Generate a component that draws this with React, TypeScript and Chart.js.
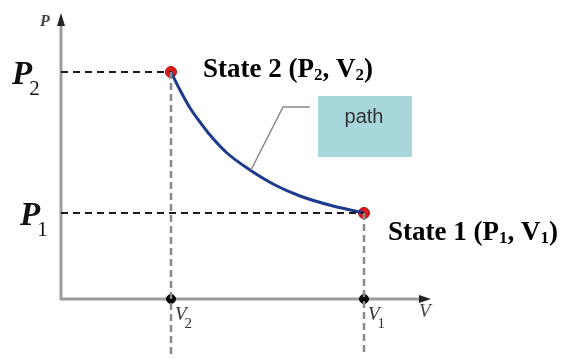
import React, { useEffect, useRef } from "react";
import { Chart, registerables } from "chart.js";

Chart.register(...registerables);

// Volume / pressure values (arbitrary units)
const curveV = [110, 119, 129, 139, 149, 166, 189, 214, 239, 272, 303];
const curveP = [227, 209, 191, 177, 164, 146, 129, 114, 103, 93, 86];
const stateV = [303, 110]; // State 1, State 2
const stateP = [86, 227];
const stateNames = ["State 1", "State 2"];
const subs = ["1", "2"];
const axisMaxV = 369;
const axisMaxP = 284;
const dropP = -56; // how far the vertical guides run below the V axis

const SERIF = '"Liberation Serif", "Times New Roman", serif';
const SANS = '"Liberation Sans", Arial, sans-serif';

const decor = {
  id: "pvDecor",
  beforeDatasetsDraw(chart: any) {
    const ctx = chart.ctx;
    const xs = chart.scales.x;
    const ys = chart.scales.y;
    const x0 = xs.getPixelForValue(0);
    const y0 = ys.getPixelForValue(0);
    const xTop = xs.getPixelForValue(axisMaxV);
    const yTop = ys.getPixelForValue(axisMaxP);
    ctx.save();
    ctx.strokeStyle = "#9c9c9c";
    ctx.lineWidth = 3;
    ctx.beginPath();
    ctx.moveTo(x0, y0 + 1);
    ctx.lineTo(x0, yTop + 8);
    ctx.moveTo(x0 - 1, y0);
    ctx.lineTo(xTop - 8, y0);
    ctx.stroke();
    // arrow heads
    ctx.fillStyle = "#222";
    ctx.beginPath();
    ctx.moveTo(x0, yTop - 2);
    ctx.lineTo(x0 - 4, yTop + 11);
    ctx.lineTo(x0 + 4, yTop + 11);
    ctx.closePath();
    ctx.fill();
    ctx.beginPath();
    ctx.moveTo(xTop + 1, y0);
    ctx.lineTo(xTop - 11, y0 - 4);
    ctx.lineTo(xTop - 11, y0 + 4);
    ctx.closePath();
    ctx.fill();

    // path box
    ctx.fillStyle = "#a7d7db";
    ctx.fillRect(318, 96, 94, 61);
    ctx.restore();
  },
  afterDatasetsDraw(chart: any) {
    const ctx = chart.ctx;
    const xs = chart.scales.x;
    const ys = chart.scales.y;
    const x0 = xs.getPixelForValue(0);
    const xTop = xs.getPixelForValue(axisMaxV);
    const yTop = ys.getPixelForValue(axisMaxP);
    const y0 = ys.getPixelForValue(0);
    ctx.save();
    ctx.textAlign = "left";
    ctx.textBaseline = "alphabetic";

    // axis names
    ctx.fillStyle = "#444";
    ctx.font = `italic bold 16px ${SERIF}`;
    ctx.fillText("P", x0 - 21, yTop + 11);
    ctx.font = `italic 19px ${SERIF}`;
    ctx.fillText("V", xTop - 11, y0 + 18);

    // P labels
    ctx.fillStyle = "#111";
    const pOff = [20, 12];
    stateP.forEach((p, i) => {
      const py = ys.getPixelForValue(p);
      ctx.font = `italic bold 33px ${SERIF}`;
      ctx.fillText("P", pOff[i], py + 12);
      const w = ctx.measureText("P").width;
      ctx.font = `21px ${SERIF}`;
      ctx.fillText(subs[i], pOff[i] + w - 3, py + 23);
    });

    // V labels
    ctx.fillStyle = "#333";
    stateV.forEach((v, i) => {
      const px = xs.getPixelForValue(v);
      ctx.font = `italic 19px ${SERIF}`;
      ctx.fillText("V", px + 4, y0 + 21);
      const w = ctx.measureText("V").width;
      ctx.font = `15px ${SERIF}`;
      ctx.fillText(subs[i], px + 2 + w, y0 + 29);
    });

    // State labels
    ctx.fillStyle = "#000";
    const drawState = (i: number, x: number, y: number) => {
      const parts: [string, boolean][] = [
        [`${stateNames[i]} (P`, false],
        [subs[i], true],
        [", V", false],
        [subs[i], true],
        [")", false],
      ];
      let cx = x;
      parts.forEach(([t, sub]) => {
        ctx.font = sub ? `bold 17px ${SERIF}` : `bold 27px ${SERIF}`;
        ctx.fillText(t, cx, sub ? y + 3 : y);
        cx += ctx.measureText(t).width;
      });
    };
    drawState(1, 203, 77);
    drawState(0, 388, 240);

    // path text
    ctx.fillStyle = "#333";
    ctx.font = `20px ${SANS}`;
    ctx.textAlign = "center";
    ctx.fillText("path", 364, 123);

    // leader line
    ctx.strokeStyle = "#888";
    ctx.lineWidth = 1.5;
    ctx.beginPath();
    ctx.moveTo(310, 107);
    ctx.lineTo(283, 107);
    ctx.lineTo(251, 170);
    ctx.stroke();
    ctx.restore();
  },
};

export default function App() {
  const ref = useRef<HTMLCanvasElement>(null);
  useEffect(() => {
    if (!ref.current) return;
    const curve = curveV.map((v, i) => ({ x: v, y: curveP[i] }));
    const hDash = stateV.map((v, i) => ({
      label: "h" + i,
      data: [
        { x: 0, y: stateP[i] },
        { x: v, y: stateP[i] },
      ],
      borderColor: "#1a1a1a",
      borderWidth: 2,
      borderDash: [7, 5],
      pointRadius: 0,
      showLine: true,
      clip: false as any,
    }));
    const vDash = stateV.map((v, i) => ({
      label: "v" + i,
      data: [
        { x: v, y: stateP[i] },
        { x: v, y: dropP },
      ],
      borderColor: "#8a8a8a",
      borderWidth: 2.5,
      borderDash: [7, 4],
      pointRadius: 0,
      showLine: true,
      clip: false as any,
    }));
    const chart = new Chart(ref.current, {
      type: "scatter",
      data: {
        datasets: [
          ...vDash,
          ...hDash,
          {
            label: "axisDots",
            data: stateV.map((v) => ({ x: v, y: 0 })),
            backgroundColor: "#000",
            borderColor: "#000",
            pointRadius: 4.5,
            showLine: false,
            clip: false as any,
          },
          {
            label: "path",
            data: curve,
            borderColor: "#1e3a8c",
            borderWidth: 3,
            pointRadius: 0,
            showLine: true,
            cubicInterpolationMode: "monotone",
            clip: false as any,
          },
          {
            label: "states",
            data: stateV.map((v, i) => ({ x: v, y: stateP[i] })),
            backgroundColor: "#dd1a1a",
            borderColor: "#b01010",
            borderWidth: 1,
            pointRadius: 5.5,
            showLine: false,
            clip: false as any,
          },
        ],
      },
      options: {
        animation: false,
        responsive: false,
        devicePixelRatio: 1,
        layout: { padding: { left: 61, top: 15, right: 133, bottom: 60 } },
        plugins: { legend: { display: false }, tooltip: { enabled: false } },
        scales: {
          x: { type: "linear", min: 0, max: axisMaxV, display: false },
          y: { type: "linear", min: 0, max: axisMaxP, display: false },
        },
      },
      plugins: [decor],
    });
    return () => chart.destroy();
  }, []);
  return (
    <div style={{ position: "fixed", left: 0, top: 0, width: 563, height: 359, background: "#fff" }}>
      <canvas ref={ref} width={563} height={359} />
    </div>
  );
}
